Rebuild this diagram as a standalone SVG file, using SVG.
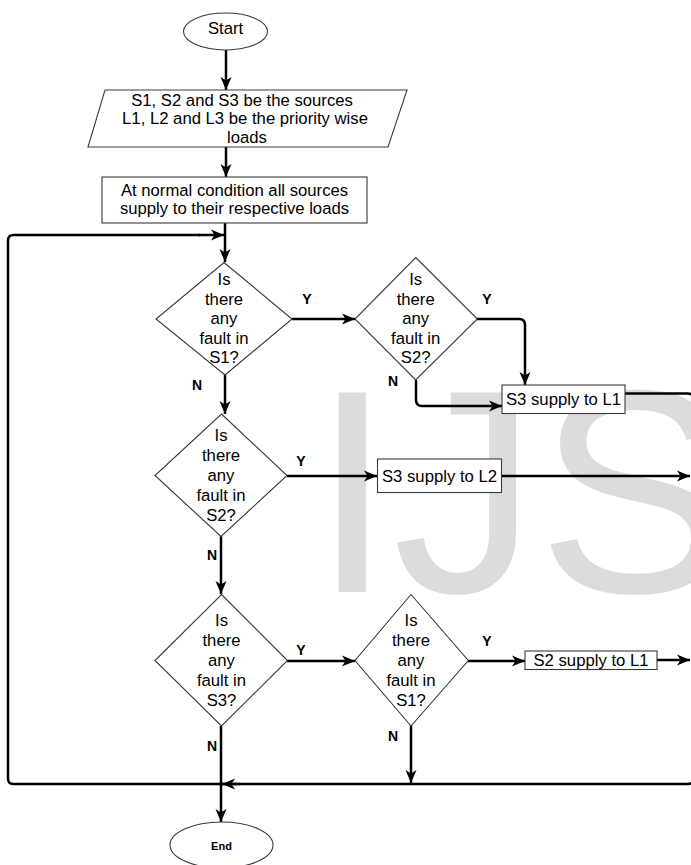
<svg xmlns="http://www.w3.org/2000/svg" width="691" height="865" viewBox="0 0 691 865">
<style>
.bg{fill:#ffffff}
.wm{font-family:"Liberation Sans",Arial,sans-serif;font-size:290px;fill:#dcdcdc}
.node{fill:#ffffff;stroke:#3a3a3a;stroke-width:1.1}
.t{font-family:"Liberation Sans",Arial,sans-serif;font-size:16.7px;fill:#000;text-anchor:middle}
.lbl{font-family:"Liberation Sans",Arial,sans-serif;font-size:14px;font-weight:bold;fill:#000;text-anchor:middle}
.end{font-family:"Liberation Sans",Arial,sans-serif;font-size:11px;font-weight:bold;fill:#000;text-anchor:middle}
.c{fill:none;stroke:#000;stroke-width:2.5;stroke-linejoin:round}
.ca{fill:none;stroke:#000;stroke-width:2.5;marker-end:url(#arr)}
</style>
<defs>
<marker id="arr" markerUnits="userSpaceOnUse" markerWidth="14" markerHeight="12" refX="13" refY="6" orient="auto" viewBox="0 0 14 12">
<path d="M0,0.5 L13,6 L0,11.5 L3.5,6 z" fill="#000"/>
</marker>
</defs>
<rect class="bg" x="0" y="0" width="691" height="865"/>
<text class="wm" x="312" y="592">IJS</text>

<g id="connectors">
<path class="ca" d="M226 50 V90"/>
<path class="ca" d="M226 147 V177"/>
<path class="ca" d="M225 223 V262"/>
<path class="c" d="M625 393.5 H687.5 Q694 393.5 694 400 V777.5 Q694 784 687.5 784 H13.5 Q8 784 8 778.5 V240.5 Q8 235 13.5 235 H200"/>
<path class="ca" d="M198 235 H224"/>
<path class="ca" d="M240 784 H222"/>
<path class="ca" d="M292 319 H355"/>
<path class="ca" d="M225 375 V414"/>
<path class="ca" d="M477 319 H519 Q525 319 525 325 V385"/>
<path class="ca" d="M416 380 V400 Q416 406 422 406 H502"/>
<path class="ca" d="M287 476 H377"/>
<path class="ca" d="M221 536 V594"/>
<path class="ca" d="M502 476 H690"/>
<path class="ca" d="M287 661 H355"/>
<path class="ca" d="M468 661 H525"/>
<path class="ca" d="M657 660 H690"/>
<path class="ca" d="M411 725 V783"/>
<path class="ca" d="M221 726 V822"/>
</g>

<g id="labels">
<text class="lbl" x="307" y="304">Y</text>
<text class="lbl" x="197" y="390">N</text>
<text class="lbl" x="487" y="304">Y</text>
<text class="lbl" x="393" y="386">N</text>
<text class="lbl" x="301" y="466">Y</text>
<text class="lbl" x="212" y="560">N</text>
<text class="lbl" x="301" y="655">Y</text>
<text class="lbl" x="212" y="751">N</text>
<text class="lbl" x="487" y="646">Y</text>
<text class="lbl" x="393" y="741">N</text>
</g>

<g id="start">
<ellipse class="node" cx="225.5" cy="31.5" rx="42" ry="18.5"/>
<text class="t" x="225.5" y="34">Start</text>
</g>

<g id="input">
<polygon class="node" points="105,90 407,90 388,147 88,147"/>
<text class="t" x="242" y="105.5">S1, S2 and S3 be the sources</text>
<text class="t" x="245" y="124">L1, L2 and L3 be the priority wise</text>
<text class="t" x="247" y="142.5">loads</text>
</g>

<g id="normal">
<rect class="node" x="102" y="177" width="265" height="46"/>
<text class="t" x="234.5" y="196">At normal condition all sources</text>
<text class="t" x="234.5" y="214">supply to their respective loads</text>
</g>

<g id="d1">
<polygon class="node" points="224,262.5 292,319 225,375 156,319"/>
<text class="t" x="224" y="285">Is</text>
<text class="t" x="224" y="304.6">there</text>
<text class="t" x="224" y="324.2">any</text>
<text class="t" x="224" y="343.8">fault in</text>
<text class="t" x="224" y="363.4">S1?</text>
</g>

<g id="d1b">
<polygon class="node" points="415.7,257.5 477.3,319 415.7,380 355,319"/>
<text class="t" x="415.7" y="285">Is</text>
<text class="t" x="415.7" y="304.6">there</text>
<text class="t" x="415.7" y="324.2">any</text>
<text class="t" x="415.7" y="343.8">fault in</text>
<text class="t" x="415.7" y="363.4">S2?</text>
</g>

<g id="s3l1">
<rect class="node" x="502" y="385" width="123" height="28.5"/>
<text class="t" x="563.5" y="405">S3 supply to L1</text>
</g>

<g id="d2">
<polygon class="node" points="221.5,414 287,475.5 221,536.5 155,475.5"/>
<text class="t" x="221" y="441">Is</text>
<text class="t" x="221" y="461">there</text>
<text class="t" x="221" y="481">any</text>
<text class="t" x="221" y="501">fault in</text>
<text class="t" x="221" y="521">S2?</text>
</g>

<g id="s3l2">
<rect class="node" x="377.5" y="459" width="124" height="33.5"/>
<text class="t" x="439.5" y="482">S3 supply to L2</text>
</g>

<g id="d3">
<polygon class="node" points="221.5,594.5 287.5,660.5 221.5,726 155,660.5"/>
<text class="t" x="221.5" y="626">Is</text>
<text class="t" x="221.5" y="646">there</text>
<text class="t" x="221.5" y="666">any</text>
<text class="t" x="221.5" y="686">fault in</text>
<text class="t" x="221.5" y="706">S3?</text>
</g>

<g id="d4">
<polygon class="node" points="411,594.5 468.3,660.5 411,726 355,660.5"/>
<text class="t" x="411" y="626">Is</text>
<text class="t" x="411" y="646">there</text>
<text class="t" x="411" y="666">any</text>
<text class="t" x="411" y="686">fault in</text>
<text class="t" x="411" y="706">S1?</text>
</g>

<g id="s2l1">
<rect class="node" x="525" y="651" width="132" height="18.5"/>
<text class="t" x="591" y="666">S2 supply to L1</text>
</g>

<g id="end">
<ellipse class="node" cx="221.5" cy="845" rx="51.5" ry="23"/>
<text class="end" x="221.5" y="850">End</text>
</g>
</svg>
